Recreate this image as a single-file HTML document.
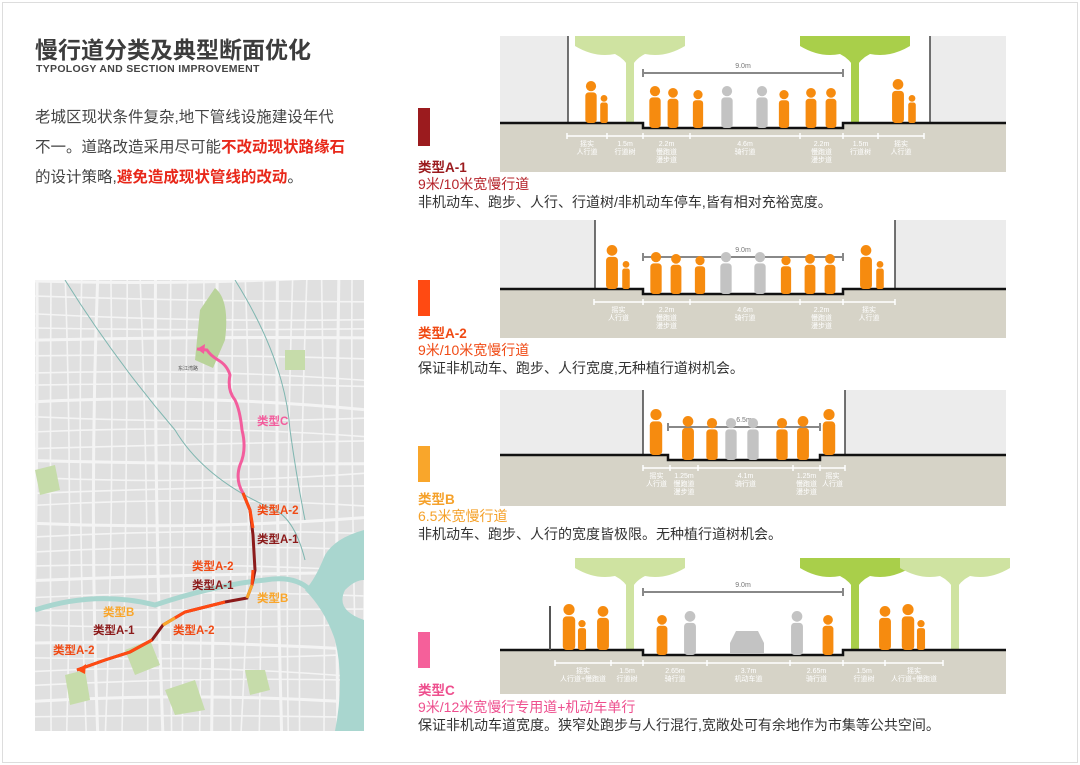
<!DOCTYPE html>
<html><head><meta charset="utf-8"><style>
body{margin:0;width:1080px;height:765px;background:#fff;font-family:"Liberation Sans","Noto Sans CJK SC",sans-serif;overflow:hidden;position:relative}
.frame{position:absolute;left:2px;top:2px;width:1074px;height:759px;border:1px solid #ddd}
.t{position:absolute;white-space:nowrap}
</style></head><body>
<div class="frame"></div>
<div class="t" style="left:35px;top:31px;font-size:23px;font-weight:bold;color:#3c3c3c">慢行道分类及典型断面优化</div>
<div class="t" style="left:36px;top:63px;font-size:10.5px;font-weight:bold;color:#444;letter-spacing:0.3px">TYPOLOGY AND SECTION IMPROVEMENT</div>
<div class="t" style="left:35px;top:103px;font-size:15.5px;line-height:30px;color:#444">老城区现状条件复杂,地下管线设施建设年代<br>不一。道路改造采用尽可能<b style="color:#e8281a">不改动现状路缘石</b><br>的设计策略,<b style="color:#e8281a">避免造成现状管线的改动</b>。</div>

<svg id="map" style="position:absolute;left:35px;top:280px" width="329" height="451" viewBox="0 0 329 451"></svg>
<svg id="sec" style="position:absolute;left:0;top:0" width="1080" height="765"></svg>

<div class="t" style="left:418px;top:108px;width:12px;height:38px;background:#9b1b1e"></div>
<div class="t" style="left:418px;top:156px;font-size:13.5px;font-weight:bold;color:#9b1b1e">类型A-1</div>
<div class="t" style="left:418px;top:174px;font-size:14px;color:#b5232a">9米/10米宽慢行道</div>
<div class="t" style="left:418px;top:192px;font-size:14px;color:#333">非机动车、跑步、人行、行道树/非机动车停车,皆有相对充裕宽度。</div>

<div class="t" style="left:418px;top:280px;width:12px;height:36px;background:#ff4a12"></div>
<div class="t" style="left:418px;top:322px;font-size:13.5px;font-weight:bold;color:#f04a14">类型A-2</div>
<div class="t" style="left:418px;top:340px;font-size:14px;color:#f04a14">9米/10米宽慢行道</div>
<div class="t" style="left:418px;top:358px;font-size:14px;color:#333">保证非机动车、跑步、人行宽度,无种植行道树机会。</div>

<div class="t" style="left:418px;top:446px;width:12px;height:36px;background:#f9a62b"></div>
<div class="t" style="left:418px;top:488px;font-size:13.5px;font-weight:bold;color:#f5a12a">类型B</div>
<div class="t" style="left:418px;top:506px;font-size:14px;color:#f5a12a">6.5米宽慢行道</div>
<div class="t" style="left:418px;top:524px;font-size:14px;color:#333">非机动车、跑步、人行的宽度皆极限。无种植行道树机会。</div>

<div class="t" style="left:418px;top:632px;width:12px;height:36px;background:#f5609a"></div>
<div class="t" style="left:418px;top:679px;font-size:13.5px;font-weight:bold;color:#ee4f8e">类型C</div>
<div class="t" style="left:418px;top:697px;font-size:14px;color:#ee4f8e">9米/12米宽慢行专用道+机动车单行</div>
<div class="t" style="left:418px;top:715px;font-size:14px;color:#333">保证非机动车道宽度。狭窄处跑步与人行混行,宽敞处可有余地作为市集等公共空间。</div>

<script>
var S='';
function person(x,gy,h,c){c=c||'#f68b0f';var w=h*0.27;
 return '<circle cx="'+x+'" cy="'+(gy-h+w*0.45)+'" r="'+(w*0.45)+'" fill="'+c+'"/><rect x="'+(x-w/2)+'" y="'+(gy-h+w)+'" width="'+w+'" height="'+(h-w)+'" rx="'+(w*0.3)+'" fill="'+c+'"/>';}
function tree(x,gy,top,c){return '<rect x="'+(x-4)+'" y="'+(top+20)+'" width="8" height="'+(gy-top-20)+'" fill="'+c+'"/><path d="M'+(x-55)+' '+top+' h110 v10 q-20 12 -40 8 q-10 5 -15 15 q-5 -10 -15 -15 q-20 4 -40 -8 z" fill="'+c+'"/>';}
function sec(o){
 var s='',t=o.top,g=o.g,b=o.b;
 if(o.bl){s+='<rect x="500" y="'+t+'" width="'+(o.bl-500)+'" height="'+(g-t)+'" fill="#ececec"/><line x1="'+o.bl+'" y1="'+t+'" x2="'+o.bl+'" y2="'+g+'" stroke="#444" stroke-width="1.5"/>';
  s+='<rect x="'+o.br+'" y="'+t+'" width="'+(1006-o.br)+'" height="'+(g-t)+'" fill="#ececec"/><line x1="'+o.br+'" y1="'+t+'" x2="'+o.br+'" y2="'+g+'" stroke="#444" stroke-width="1.5"/>';}
 (o.trees||[]).forEach(function(tr){s+=tree(tr[0],g,t,tr[1]);});
 s+='<path d="M500 '+g+' H'+o.d1+' V'+(g+5)+' H'+o.d2+' V'+g+' H1006 V'+b+' H500z" fill="#d6d3c7"/>';
 s+='<path d="M500 '+g+' H'+o.d1+' V'+(g+5)+' H'+o.d2+' V'+g+' H1006" fill="none" stroke="#111" stroke-width="2.5"/>';
 var dy=t+(o.dimY||37);
 s+='<line x1="'+o.d1+'" y1="'+dy+'" x2="'+o.d2+'" y2="'+dy+'" stroke="#888" stroke-width="2"/><line x1="'+o.d1+'" y1="'+(dy-4)+'" x2="'+o.d1+'" y2="'+(dy+4)+'" stroke="#888" stroke-width="2"/><line x1="'+o.d2+'" y1="'+(dy-4)+'" x2="'+o.d2+'" y2="'+(dy+4)+'" stroke="#888" stroke-width="2"/><text x="'+((o.d1+o.d2)/2)+'" y="'+(dy-5)+'" font-size="7" fill="#777" text-anchor="middle">'+o.dim+'</text>';
 o.people.forEach(function(p){s+=person(p[0],g+(p[0]>o.d1&&p[0]<o.d2?5:0),p[1],p[2]);});
 var ty=g+13;var tk=o.ticks;
 s+='<line x1="'+tk[0]+'" y1="'+ty+'" x2="'+tk[tk.length-1]+'" y2="'+ty+'" stroke="#fff" stroke-width="1.5"/>';
 tk.forEach(function(x){s+='<line x1="'+x+'" y1="'+(ty-3)+'" x2="'+x+'" y2="'+(ty+3)+'" stroke="#fff" stroke-width="1.5"/>';});
 o.labels.forEach(function(l,i){var cx=(tk[i]+tk[i+1])/2;l.split('|').forEach(function(ln,j){s+='<text x="'+cx+'" y="'+(ty+10+j*8)+'" font-size="7" fill="#fff" text-anchor="middle">'+ln+'</text>';});});
 return s;}
var G='#a9cf4a',GL='#cfe3a1',GR='#c3c3c3';
S+=sec({top:36,g:123,b:172,bl:568,br:930,d1:643,d2:843,dim:'9.0m',trees:[[630,GL],[855,G]],
 people:[[591,42],[604,28],[655,42],[673,40],[698,38],[727,42,GR],[762,42,GR],[784,38],[811,40],[831,40],[898,44],[912,28]],
 ticks:[567,607,643,690,800,843,878,924],labels:['摇实|人行道','1.5m|行道树','2.2m|慢跑道|漫步道','4.6m|骑行道','2.2m|慢跑道|漫步道','1.5m|行道树','摇实|人行道']});
S+=sec({top:220,g:289,b:338,bl:595,br:895,d1:643,d2:843,dim:'9.0m',
 people:[[612,44],[626,28],[656,42],[676,40],[700,38],[726,42,GR],[760,42,GR],[786,38],[810,40],[830,40],[866,44],[880,28]],
 ticks:[594,643,690,800,843,895],labels:['摇实|人行道','2.2m|慢跑道|漫步道','4.6m|骑行道','2.2m|慢跑道|漫步道','摇实|人行道']});
S+=sec({top:390,g:455,b:506,bl:643,br:845,d1:668,d2:820,dim:'6.5m',
 people:[[656,46],[688,44],[712,42],[731,42,GR],[753,42,GR],[782,42],[803,44],[829,46]],
 ticks:[643,670,698,793,820,845],labels:['摇实|人行道','1.25m|慢跑道|漫步道','4.1m|骑行道','1.25m|慢跑道|漫步道','摇实|人行道']});
S+=sec({top:558,g:650,b:694,d1:643,d2:843,dim:'9.0m',dimY:34,trees:[[630,GL],[855,G],[955,GL]],
 people:[[569,46],[582,30],[603,44],[662,40],[690,44,GR],[797,44,GR],[828,40],[885,44],[908,46],[921,30]],
 ticks:[555,611,643,707,790,843,885,943],labels:['摇实|人行道+慢跑道','1.5m|行道树','2.65m|骑行道','3.7m|机动车道','2.65m|骑行道','1.5m|行道树','摇实|人行道+慢跑道']});
S+='<line x1="550" y1="606" x2="550" y2="650" stroke="#555" stroke-width="2"/>';
S+='<path d="M730 643 l6 -12 h22 l6 12 v10 h-34z" fill="#c3c3c3"/>';
document.getElementById('sec').innerHTML=S;

// map
var M='<rect width="329" height="451" fill="#e0e0e0"/>';
var seed=7;function r(){seed=(seed*9301+49297)%233280;return seed/233280;}
for(var i=0;i<=22;i++){var x=i*15+r()*4;M+='<path d="M'+x+' 0 Q'+(x+r()*20-10)+' 225 '+(x+r()*16-8)+' 451" fill="none" stroke="#f4f4f4" stroke-width="'+(i%4==0?3:1.6)+'"/>';}
for(var i=0;i<=30;i++){var y=i*15+r()*4;M+='<path d="M0 '+y+' Q164 '+(y+r()*20-10)+' 329 '+(y+r()*16-8)+'" fill="none" stroke="#f4f4f4" stroke-width="'+(i%4==0?3:1.6)+'"/>';}
M+='<path d="M329 250 Q300 258 290 275 Q280 300 270 310 Q290 330 300 360 Q310 400 300 451 H329 V340 Q300 330 310 310 Q320 300 329 300z" fill="#a9d6cf"/>';
M+='<path d="M0 330 Q60 310 120 325 Q180 305 230 300 Q260 295 275 310" fill="none" stroke="#a9d6cf" stroke-width="5"/>';
M+='<path d="M180 8 Q195 20 190 60 L178 88 L160 80 L165 30z" fill="#b9d39a"/><path d="M30 395 l20 -5 l5 30 l-20 5z M90 370 l25 -10 l10 25 l-25 10z M210 390 l20 0 l5 20 l-20 5z M0 190 l20 -5 l5 25 l-20 5z M130 410 l30 -10 l10 30 l-30 5z M250 70 l20 0 l0 20 l-20 0z" fill="#c6dcaa"/>';
M+='<path d="M30 0 Q80 80 140 150 Q170 200 240 230 Q260 240 270 280 M200 0 Q250 80 255 150 Q262 200 270 240" fill="none" stroke="#7fb6b0" stroke-width="1"/>';
M+='<path d="M208 213 Q200 200 205 185 Q212 170 207 150 Q205 130 200 120 Q192 110 195 95 Q192 85 183 80 Q175 75 172 70 L162 69" fill="none" stroke="#f35d9d" stroke-width="3"/><path d="M162 69 l8 -5 l-1 10z" fill="#f35d9d"/>';
M+='<path d="M208 213 L215 230 L218 255 L220 290 L217 305 L212 318 L190 322 L150 332 L128 345 L117 360 L95 372 L70 380 L42 390" fill="none" stroke="#8b1a1a" stroke-width="3"/>';
M+='<path d="M208 213 L215 230 L218 248 M218 290 L217 305 M190 322 L150 332 L128 345 M117 360 L95 372 L70 380 L42 390" fill="none" stroke="#ff4a12" stroke-width="3"/><path d="M217 305 L212 318 M140 338 L128 345" fill="none" stroke="#f9a62b" stroke-width="3"/><path d="M42 390 l9 -6 l-1 10z" fill="#ff4a12"/>';
function L(x,y,t,c){return '<text x="'+x+'" y="'+y+'" font-size="11.5" font-weight="bold" fill="'+c+'">'+t+'</text>';}
M+=L(222,145,'类型C','#f35d9d')+L(222,234,'类型A-2','#f04a14')+L(222,263,'类型A-1','#8b1a1a')+L(157,290,'类型A-2','#f04a14')+L(157,309,'类型A-1','#8b1a1a')+L(222,322,'类型B','#f9a62b')+L(68,336,'类型B','#f9a62b')+L(58,354,'类型A-1','#8b1a1a')+L(138,354,'类型A-2','#f04a14')+L(18,374,'类型A-2','#f04a14');
M+='<text x="143" y="90" font-size="5" fill="#555">东江湾路</text>';
document.getElementById('map').innerHTML=M;
</script>
</body></html>
